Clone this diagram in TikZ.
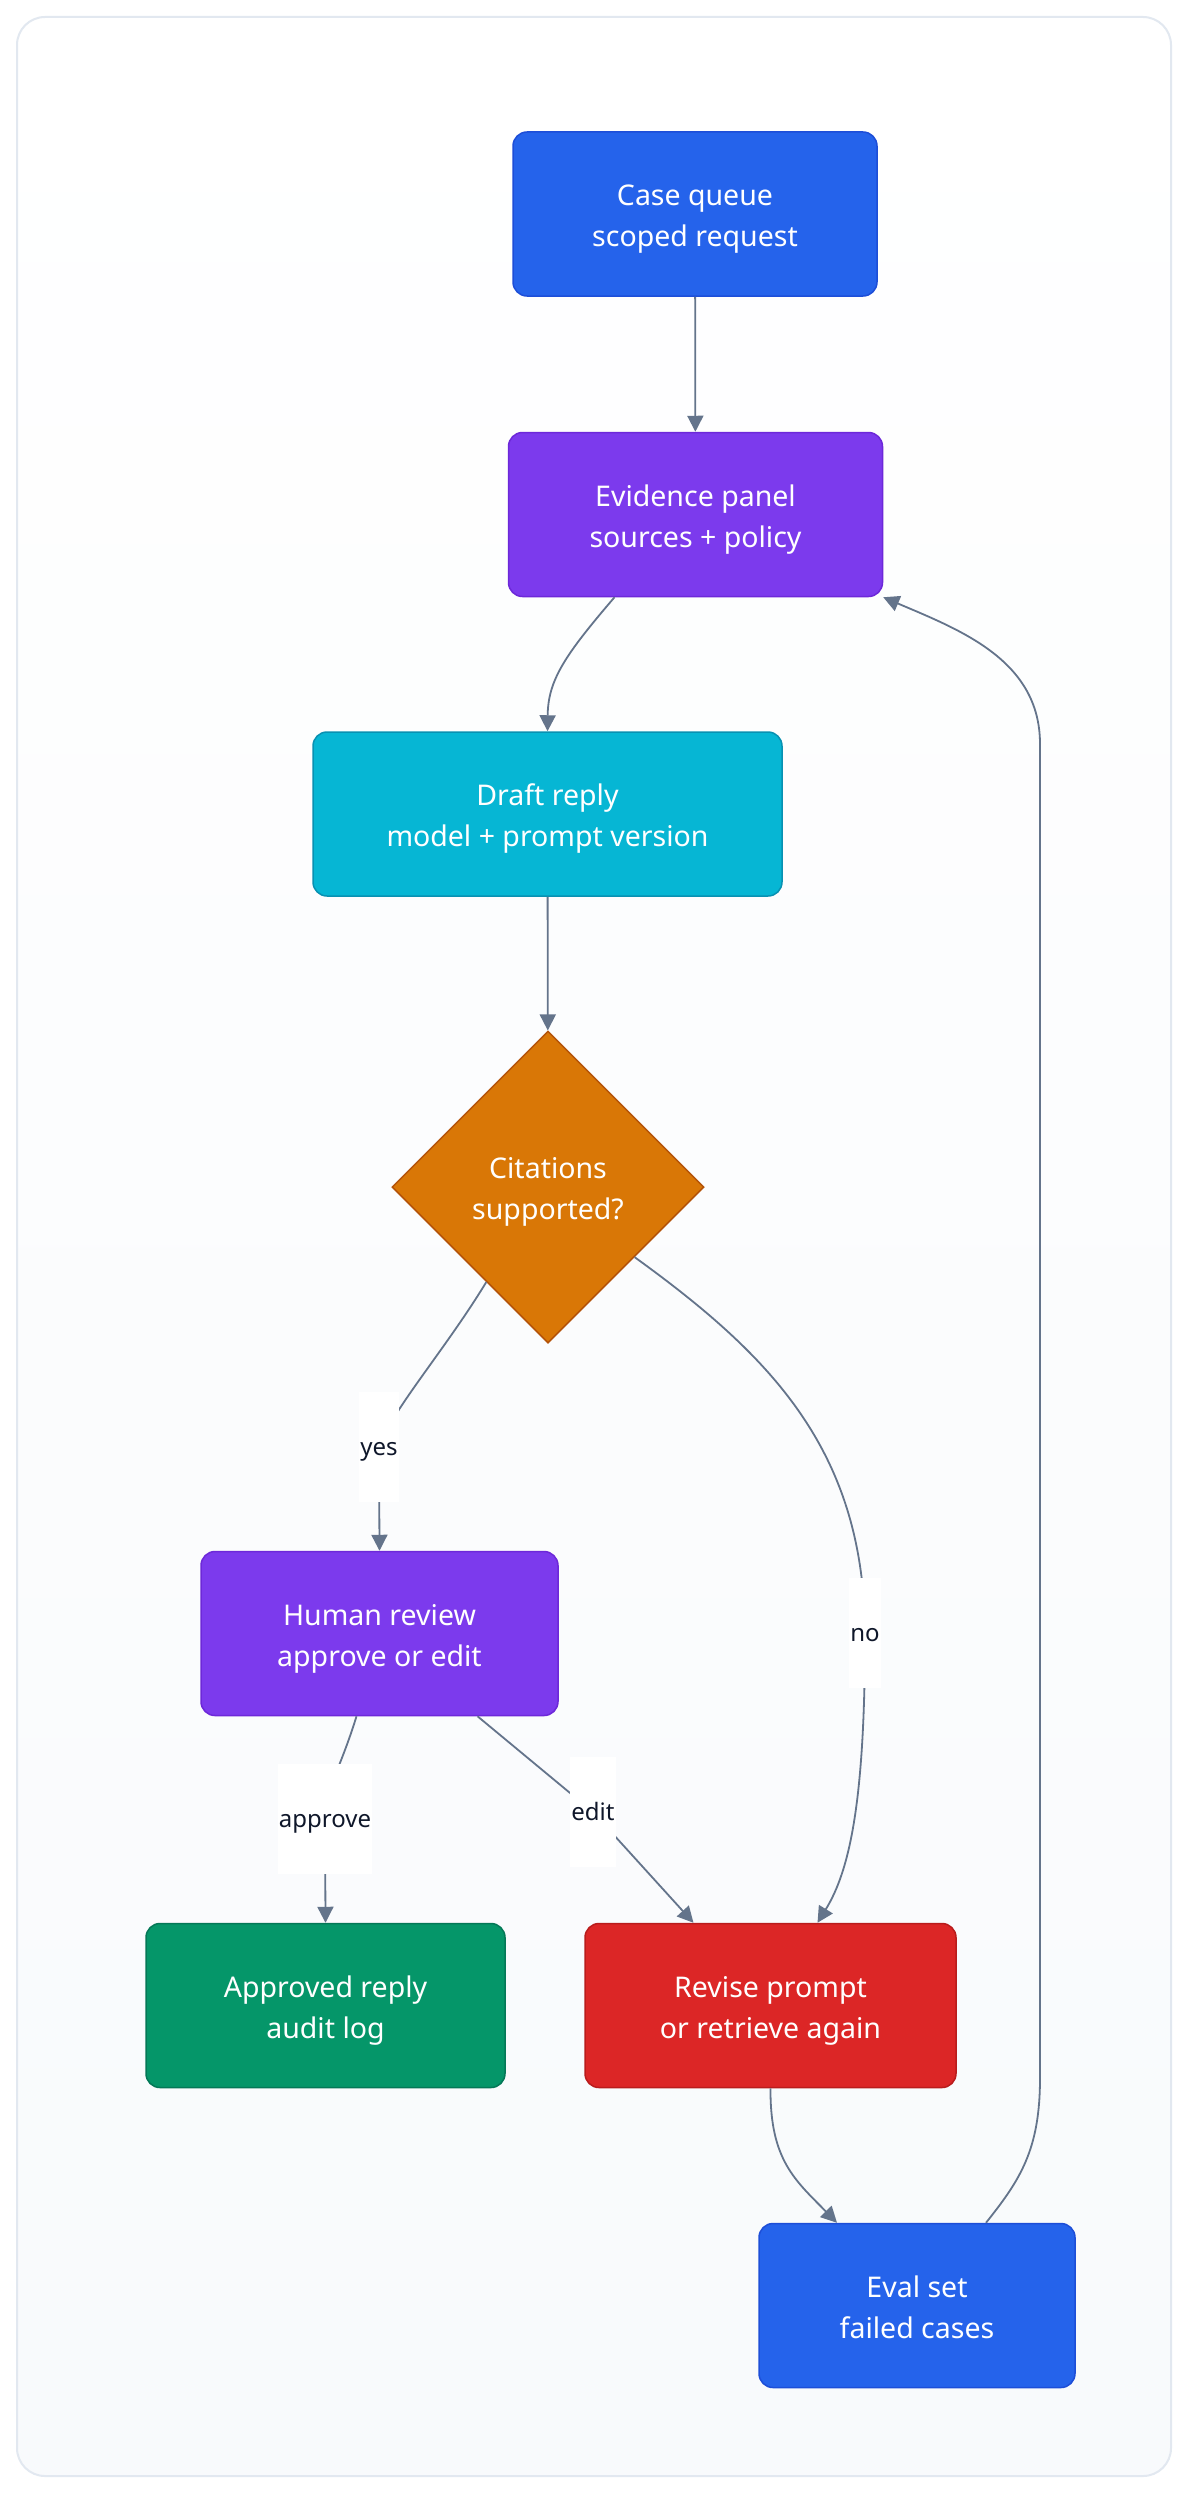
\documentclass[tikz,border=0pt]{standalone}
\usepackage{fontspec}
\setmainfont{Noto Sans}
\usetikzlibrary{shapes.geometric,arrows.meta}
\definecolor{queueblue}{HTML}{2563EB}
\definecolor{queueblueline}{HTML}{1D4ED8}
\definecolor{stepviolet}{HTML}{7C3AED}
\definecolor{stepvioletline}{HTML}{6D28D9}
\definecolor{draftcyan}{HTML}{06B6D4}
\definecolor{draftcyanline}{HTML}{0891B2}
\definecolor{checkamber}{HTML}{D97706}
\definecolor{checkamberline}{HTML}{B45309}
\definecolor{okgreen}{HTML}{059669}
\definecolor{okgreenline}{HTML}{047857}
\definecolor{failred}{HTML}{DC2626}
\definecolor{failredline}{HTML}{B91C1C}
\definecolor{edgegrey}{HTML}{64748B}
\definecolor{labelink}{HTML}{0F172A}
\definecolor{framegrey}{HTML}{E2E8F0}
\definecolor{panelbottom}{HTML}{F8FAFC}
\newcommand{\boxfont}{\fontsize{28.5}{41}\selectfont}
\newcommand{\edgefont}{\fontsize{24}{28}\selectfont}
\newcommand{\boxtext}[2]{\raisebox{0pt}[\dimexpr\height+8pt\relax]{\begin{tabular}{@{}c@{}}#1\\#2\end{tabular}}}
\tikzset{
  stepbox/.style={draw=#1line,fill=#1,line width=1.5pt,rounded corners=14pt,
    text=white,font=\boxfont,minimum height=164pt,inner sep=0pt},
  decision/.style={diamond,aspect=1,draw=checkamberline,fill=checkamber,
    line width=1.5pt,text=white,font=\boxfont,
    minimum width=312pt,minimum height=312pt,inner sep=0pt},
  edgelabel/.style={fill=white,text=labelink,font=\edgefont,
    inner xsep=1pt,inner ysep=0pt,text height=18pt,text depth=2pt,minimum height=110pt},
  flow/.style={draw=edgegrey,line width=1.8pt,-{Triangle[length=16pt,width=16pt]}}
}

\begin{document}
\begin{tikzpicture}[x=1pt,y=-1pt]
  \useasboundingbox (0,0) rectangle (1188,2494);
  \fill[white] (0,0) rectangle (1188,2494);
  \shade[top color=white,bottom color=panelbottom,rounded corners=28pt]
    (17,17) rectangle (1171,2476);
  \draw[framegrey,line width=2pt,rounded corners=28pt]
    (17,17) rectangle (1171,2476);

  % main column
  \node[stepbox=queueblue,minimum width=364pt] (queue) at (695,214)
    {\boxtext{Case queue}{scoped request}};
  \node[stepbox=stepviolet,minimum width=374pt] (evidence) at (695.5,514.5)
    {\boxtext{Evidence panel}{sources + policy}};
  \node[stepbox=draftcyan,minimum width=469pt] (draft) at (547.5,814)
    {\boxtext{Draft reply}{model + prompt version}};
  \node[decision] (check) at (548,1187) {\boxtext{Citations}{supported?}};

  % review and outcomes
  \node[stepbox=stepviolet,minimum width=357pt] (review) at (379.5,1633.5)
    {\boxtext{Human review}{approve or edit}};
  \node[stepbox=okgreen,minimum width=359pt] (approved) at (325.5,2005.5)
    {\boxtext{Approved reply}{audit log}};
  \node[stepbox=failred,minimum width=371pt] (revise) at (770.5,2005.5)
    {\boxtext{Revise prompt}{or retrieve again}};
  \node[stepbox=queueblue,minimum width=316pt] (evalset) at (917,2305.5)
    {\boxtext{Eval set}{failed cases}};

  % connectors
  \draw[flow] (queue) -- (evidence);
  \draw[flow] ([xshift=-81pt]evidence.south) .. controls (565,655) and (548,680) .. (draft.north);
  \draw[flow] (draft) -- (check);
  \draw[flow] (check.237) .. controls (445,1350) and (392,1410) .. (379,1447)
    node[edgelabel] (yes) {yes} -- (review.north);
  \draw[flow] (check.-39.5) .. controls (770,1355) and (864,1450) .. (865,1633)
    node[edgelabel] (no) {no} .. controls (865,1800) and (850,1870) .. ([xshift=47pt]revise.north);
  \draw[flow] ([xshift=-23pt]review.south) .. controls (340,1770) and (325,1790) .. (325,1819)
    node[edgelabel] (approve) {approve} -- (approved.north);
  \draw[flow] ([xshift=98pt]review.south) -- (593,1812)
    node[edgelabel] (edit) {edit} -- ([xshift=-77pt]revise.north);
  \draw[flow] (revise.south) .. controls (770,2160) and (795,2180) .. ([xshift=-80pt]evalset.north);
  \draw[flow] ([xshift=69pt]evalset.north) .. controls (1020,2180) and (1040,2150) .. (1040,2078)
    -- (1040,744) .. controls (1040,660) and (960,630) .. (evidence.south east);
\end{tikzpicture}
\end{document}
